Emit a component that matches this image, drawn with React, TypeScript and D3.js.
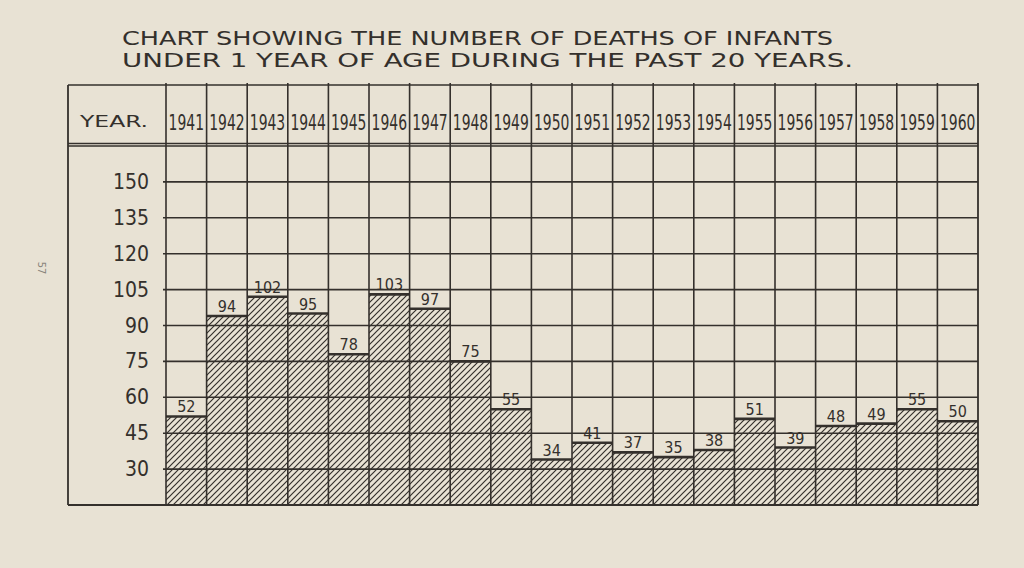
import * as d3 from "d3";

const years = [
  "1941", "1942", "1943", "1944", "1945", "1946", "1947", "1948", "1949", "1950",
  "1951", "1952", "1953", "1954", "1955", "1956", "1957", "1958", "1959", "1960",
];
const deaths = [52, 94, 102, 95, 78, 103, 97, 75, 55, 34, 41, 37, 35, 38, 51, 39, 48, 49, 55, 50];
const yTicks = [30, 45, 60, 75, 90, 105, 120, 135, 150];
const titleLines = [
  "CHART  SHOWING  THE  NUMBER  OF  DEATHS   OF  INFANTS",
  "UNDER  1  YEAR  OF  AGE  DURING  THE  PAST  20  YEARS.",
];

const ink = "#34302c";
const paper = "#e8e2d4";
const font = "'DejaVu Sans Condensed', 'DejaVu Sans', sans-serif";

export default function App() {
  const W = 1024;
  const H = 568;
  const frame = { left: 68, right: 978, top: 85, header: 146, bottom: 505 };
  const colLeft = 166;

  const x = d3.scaleBand<string>().domain(years).range([colLeft, frame.right]).padding(0);
  const y = d3.scaleLinear().domain([15, 165]).range([frame.bottom, frame.header]);
  const bw = x.bandwidth();
  const data = years.map((yr, i) => ({ yr, v: deaths[i] }));

  return (
    <svg width={W} height={H} style={{ position: "absolute", left: 0, top: 0, background: paper }}>
      <defs>
        <pattern id="hatch" patternUnits="userSpaceOnUse" width={6} height={6}>
          <path d="M-1,1 L1,-1 M0,6 L6,0 M5,7 L7,5" stroke={ink} strokeWidth={1.2} />
        </pattern>
      </defs>
      <rect width={W} height={H} fill={paper} />

      {/* page number */}
      <text x={38} y={268} transform="rotate(90 38 268)" fontSize={11} fill="#8a857c" fontFamily={font} textAnchor="middle">
        57
      </text>

      {/* title */}
      {titleLines.map((t, i) => (
        <text key={i} x={122} y={45 + i * 22} fontSize={19} fill={ink} fontFamily={font}
          textLength={i === 0 ? 711 : 731} lengthAdjust="spacingAndGlyphs">
          {t}
        </text>
      ))}

      {/* bars */}
      {data.map((d) => (
        <rect key={d.yr} x={x(d.yr)} y={y(d.v)} width={bw} height={frame.bottom - y(d.v)} fill="url(#hatch)" />
      ))}

      {/* horizontal grid */}
      {yTicks.map((t) => (
        <g key={t}>
          <line x1={colLeft - 3} x2={frame.right} y1={y(t)} y2={y(t)} stroke={ink} strokeWidth={1.6} />
          <text x={149} y={y(t) + 7} fontSize={21} fill={ink} fontFamily={font} textAnchor="end">
            {t}
          </text>
        </g>
      ))}

      {/* bar tops */}
      {data.map((d) => (
        <line key={d.yr} x1={x(d.yr)} x2={(x(d.yr) as number) + bw} y1={y(d.v)} y2={y(d.v)} stroke={ink} strokeWidth={2.6} />
      ))}

      {/* value labels */}
      {data.map((d) => (
        <text key={d.yr} x={(x(d.yr) as number) + bw / 2} y={y(d.v) - 4} fontSize={16} fill={ink} fontFamily={font} textAnchor="middle">
          {d.v}
        </text>
      ))}

      {/* vertical column lines */}
      {years.map((yr) => (
        <line key={yr} x1={x(yr)} x2={x(yr)} y1={frame.top - 2} y2={frame.bottom} stroke={ink} strokeWidth={1.6} />
      ))}

      {/* frame */}
      <line x1={frame.left} x2={frame.right} y1={frame.top} y2={frame.top} stroke={ink} strokeWidth={1.6} />
      <line x1={frame.left} x2={frame.right} y1={frame.header - 2.5} y2={frame.header - 2.5} stroke={ink} strokeWidth={1.4} />
      <line x1={frame.left} x2={frame.right} y1={frame.header} y2={frame.header} stroke={ink} strokeWidth={1.4} />
      <line x1={frame.left} x2={frame.right} y1={frame.bottom} y2={frame.bottom} stroke={ink} strokeWidth={1.8} />
      <line x1={frame.left} x2={frame.left} y1={frame.top} y2={frame.bottom} stroke={ink} strokeWidth={1.8} />
      <line x1={frame.right} x2={frame.right} y1={frame.top - 2} y2={frame.bottom} stroke={ink} strokeWidth={1.8} />

      {/* header */}
      <text x={80} y={127} fontSize={16} fill={ink} fontFamily={font} textLength={68} lengthAdjust="spacingAndGlyphs">
        YEAR.
      </text>
      {years.map((yr) => {
        const cx = (x(yr) as number) + bw / 2;
        return (
          <text key={yr} transform={`translate(${cx},130) scale(1,1.4)`} fontSize={15.5} fill={ink} fontFamily={font}
            textAnchor="middle">
            {yr}
          </text>
        );
      })}
    </svg>
  );
}
